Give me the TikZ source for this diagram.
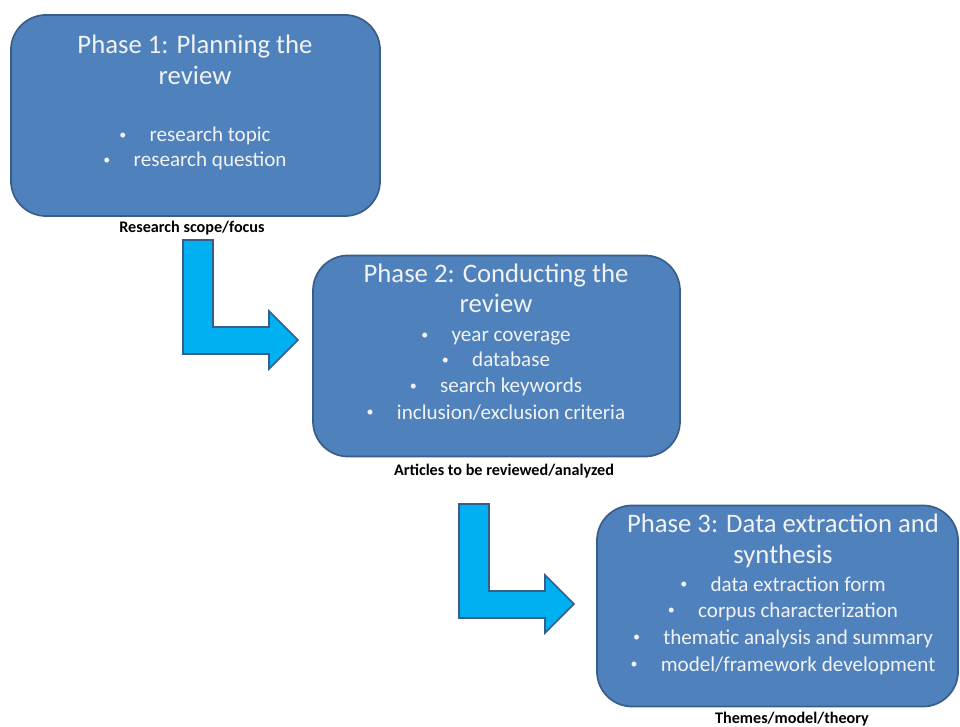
\documentclass[tikz,border=0pt]{standalone}
\usepackage{fontspec}
\setmainfont{Carlito}
\usepackage{tikz}
\definecolor{phasefill}{HTML}{4F81BD}
\definecolor{phaseline}{HTML}{385D8A}
\definecolor{arrowfill}{HTML}{00B0F0}
\definecolor{phasetext}{HTML}{F2F2F2}

\begin{document}
\begin{tikzpicture}[x=0.025cm,y=-0.025cm,
    phase/.style={draw=phaseline,fill=phasefill,line width=1.2pt,rounded corners=25pt,minimum height=143pt},
    title/.style={anchor=base,text=phasetext,inner sep=0pt,font=\fontsize{19}{21}\selectfont},
    item/.style={anchor=base,text=phasetext,inner sep=0pt,font=\fontsize{15}{18}\selectfont,
      execute at begin node={\raisebox{0.12em}{\fontsize{10}{10}\selectfont\textbullet}\hspace{1.1em}}},
    result/.style={anchor=base,inner sep=0pt,font=\bfseries\fontsize{11.5}{13}\selectfont}]
  \useasboundingbox (0,0) rectangle (960,727);
  \foreach \x/\y in {183/240,459/504}
  {
    \filldraw[draw=phaseline,fill=arrowfill,line width=1.2pt,shift={(\x,\y)}]
      (0,0) -- (30,0) -- (30,87) -- (86,87) -- (86,71) -- (115,100) -- (86,129) -- (86,114) -- (0,114) -- cycle;
  }
  \node[phase,minimum width=262.5pt] (box1) at (195.5,115.5) {};
  \node[phase,minimum width=261pt] (box2) at (496.5,356) {};
  \node[phase,minimum width=256.8pt] (box3) at (777.5,606) {};
  \foreach \y/\t [count=\i] in {54/{Phase 1: Planning the},85/review}
    \node[title] (box1t\i) at (195,\y) {\t};
  \foreach \y/\t [count=\i] in {142/{research topic},167/{research question}}
    \node[item] (box1i\i) at (195,\y) {\t};
  \foreach \y/\t [count=\i] in {283/{Phase 2: Conducting the},313/review}
    \node[title] (box2t\i) at (496,\y) {\t};
  \foreach \y/\t [count=\i] in {342/{year coverage},367/database,393/{search keywords},419/{inclusion/exclusion criteria}}
    \node[item] (box2i\i) at (496,\y) {\t};
  \foreach \y/\t [count=\i] in {532/{Phase 3: Data extraction and},563/synthesis}
    \node[title] (box3t\i) at (783,\y) {\t};
  \foreach \y/\t [count=\i] in {591/{data extraction form},617/{corpus characterization},644/{thematic analysis and summary},671/{model/framework development}}
    \node[item] (box3i\i) at (783,\y) {\t};
  \node[result] (scope) at (192,233) {Research scope/focus};
  \node[result] (articles) at (504,476) {Articles to be reviewed/analyzed};
  \node[result] (themes) at (792,723) {Themes/model/theory};
\end{tikzpicture}
\end{document}
